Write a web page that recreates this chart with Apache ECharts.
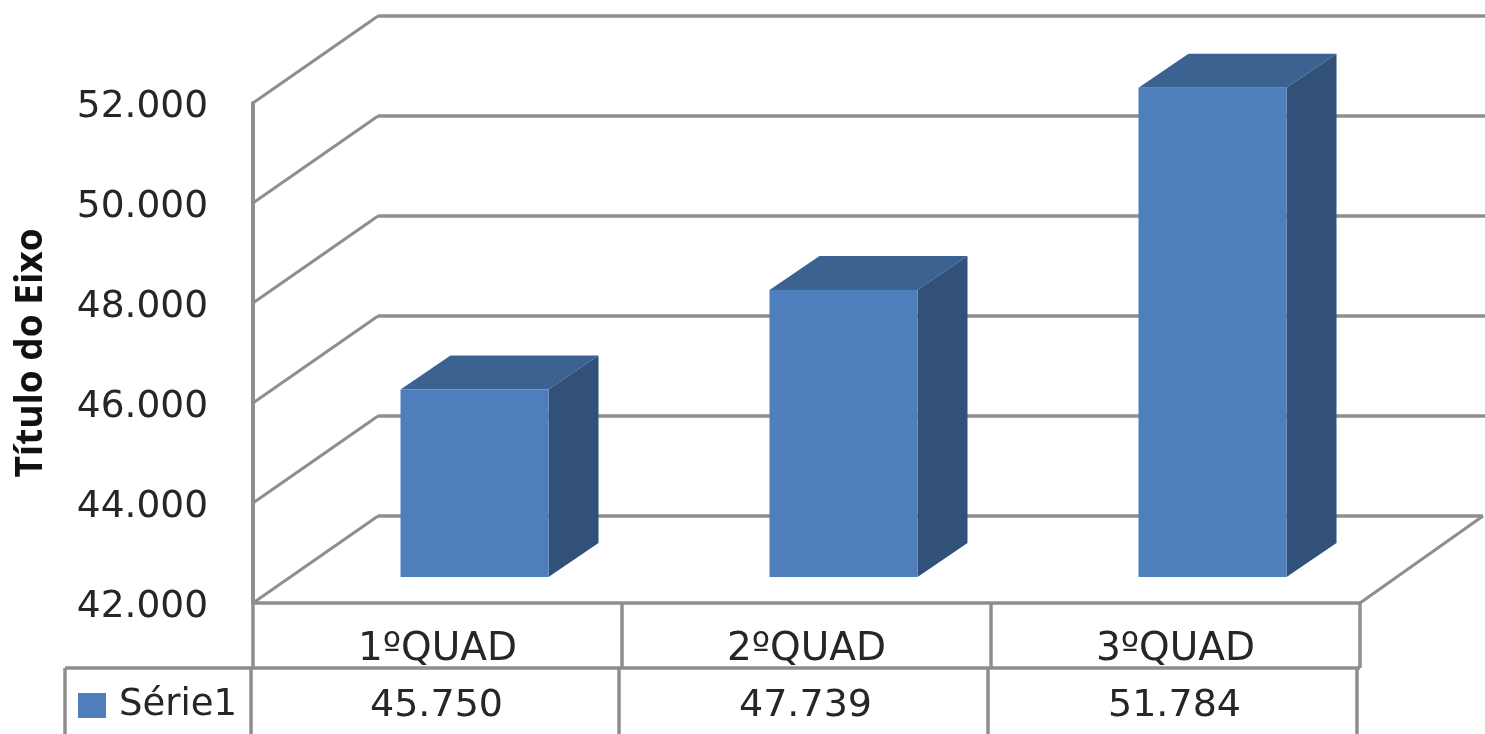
<!DOCTYPE html>
<html>
<head>
<meta charset="utf-8">
<style>
  html, body { margin: 0; padding: 0; background: #fff; }
  #main { width: 1485px; height: 734px; }
</style>
<script src="https://cdn.jsdelivr.net/npm/echarts@6/dist/echarts.min.js"></script>
</head>
<body>
<div id="main"></div>
<script>
var categories = ['1ºQUAD', '2ºQUAD', '3ºQUAD']
var values = [45750, 47739, 51784]
var ticks = [42000, 44000, 46000, 48000, 50000, 52000]
var seriesName = 'Série1'
var axisTitle = 'Título do Eixo'

var FONT = '"DejaVu Sans"'
var LINE = '#8e8e8e'
var TEXT = '#262626'
// profundidade do efeito 3D, em pixels
var WALL_DX = 125
var WALL_DY = -87
var BAR_W = 148
var BAR_DX = 50
var BAR_DY = -34
var BAR_BASE_DX = 37
var BAR_BASE_DY = -26

function fmt(v) {
  return String(v).replace(/\B(?=(\d{3})+$)/g, '.')
}

function seg(x1, y1, x2, y2, w) {
  return {
    type: 'line',
    shape: { x1: x1, y1: y1, x2: x2, y2: y2 },
    style: { stroke: LINE, lineWidth: w || 3.5 }
  }
}

function poly(points, color) {
  return { type: 'polygon', shape: { points: points }, style: { fill: color } }
}

// paredes e linhas de grade
function renderWall(params, api) {
  var cs = params.coordSys
  var y = api.coord([0, api.value(1)])[1]
  var left = cs.x
  var bx = left + WALL_DX
  var by = y + WALL_DY
  var isFloor = api.value(1) === ticks[0]
  var children = [
    seg(left, y, bx, by, 3),
    seg(bx, by, isFloor ? cs.x + cs.width + WALL_DX - 2 : 1485, by, 3.5)
  ]
  if (isFloor) {
    children.push(seg(cs.x + cs.width, y, cs.x + cs.width + WALL_DX - 2, by, 3))
  }
  return { type: 'group', children: children }
}

// barra: frente, topo e lateral
function renderBar(params, api) {
  var p = api.coord([api.value(0), api.value(1)])
  var base = api.coord([api.value(0), ticks[0]])
  var x0 = p[0] - BAR_W / 2 + BAR_BASE_DX
  var x1 = x0 + BAR_W
  var top = p[1] + BAR_BASE_DY
  var bot = base[1] + BAR_BASE_DY
  return {
    type: 'group',
    children: [
      poly([[x0, top], [x0 + BAR_DX, top + BAR_DY], [x1 + BAR_DX, top + BAR_DY], [x1, top]], '#3b6290'),
      poly([[x1, top], [x1 + BAR_DX, top + BAR_DY], [x1 + BAR_DX, bot + BAR_DY], [x1, bot]], '#315179'),
      poly([[x0, top], [x1, top], [x1, bot], [x0, bot]], '#4e7fbc')
    ]
  }
}

// tabela de dados abaixo do eixo
function renderTable(params, api) {
  var cs = params.coordSys
  var i = api.value(0)
  var c = api.coord([i, ticks[0]])
  var bandW = cs.width / categories.length
  var floor = c[1]
  var row1 = floor + 65
  var children = [
    seg(c[0] + bandW / 2, floor, c[0] + bandW / 2, row1),
    seg(c[0] + bandW / 2 - 3, row1, c[0] + bandW / 2 - 3, 734),
    {
      type: 'text',
      style: {
        x: c[0] - 1,
        y: floor + 103,
        text: fmt(api.value(1)),
        font: '38px ' + FONT,
        fill: TEXT,
        align: 'center',
        verticalAlign: 'middle'
      }
    }
  ]
  if (i === 0) {
    children.push(
      seg(cs.x, floor, cs.x + cs.width, floor),
      seg(cs.x, floor, cs.x, row1),
      seg(65, row1, cs.x + cs.width, row1),
      seg(65, row1, 65, 734),
      seg(cs.x - 2, row1, cs.x - 2, 734)
    )
  }
  return { type: 'group', children: children }
}

var chart = echarts.init(document.getElementById('main'), null, { renderer: 'canvas' })

var option = {
  animation: false,
  backgroundColor: '#fff',
  grid: { left: 253, right: 125, top: 103, bottom: 131, outerBoundsMode: 'none' },
  legend: {
    data: [{ name: seriesName, icon: 'rect' }],
    left: 78,
    top: 687,
    itemWidth: 28,
    itemHeight: 25,
    itemGap: 14,
    padding: 0,
    selectedMode: false,
    textStyle: { fontFamily: FONT, fontSize: 37, color: TEXT, padding: [0, 0, 0, 8] }
  },
  xAxis: {
    type: 'category',
    data: categories,
    axisTick: { show: false },
    axisLine: { show: false },
    axisLabel: {
      margin: 27,
      fontFamily: FONT,
      fontSize: 39,
      color: TEXT
    }
  },
  yAxis: {
    type: 'value',
    min: 42000,
    max: 52000,
    interval: 2000,
    name: axisTitle,
    nameLocation: 'middle',
    nameGap: 203,
    nameTextStyle: { fontFamily: '"Open Sans"', fontWeight: 'bold', fontSize: 37, color: '#111' },
    axisTick: { show: false },
    axisLine: { show: true, lineStyle: { color: LINE, width: 4 } },
    splitLine: { show: false },
    axisLabel: {
      margin: 45,
      fontFamily: FONT,
      fontSize: 37.5,
      color: TEXT,
      verticalAlign: 'top',
      lineHeight: 8,
      formatter: fmt
    }
  },
  series: [
    {
      type: 'custom',
      name: 'grade',
      renderItem: renderWall,
      clip: false,
      silent: true,
      z: 1,
      data: ticks.map(function(t) { return [0, t] })
    },
    {
      type: 'custom',
      name: seriesName,
      renderItem: renderBar,
      clip: false,
      z: 2,
      itemStyle: { color: '#4e7fbc' },
      encode: { x: 0, y: 1 },
      data: values.map(function(v, i) { return [i, v] })
    },
    {
      type: 'custom',
      name: 'tabela',
      renderItem: renderTable,
      clip: false,
      silent: true,
      z: 3,
      data: values.map(function(v, i) { return [i, v] })
    }
  ]
}

chart.setOption(option)
</script>
</body>
</html>
